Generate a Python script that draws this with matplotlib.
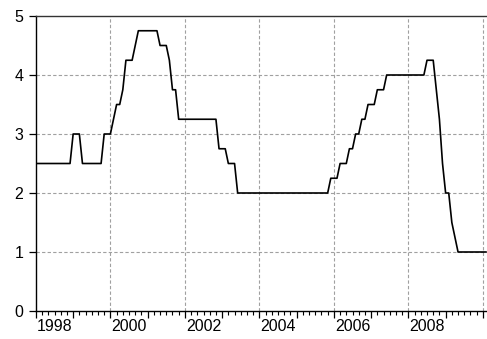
import matplotlib
matplotlib.use("Agg")
import matplotlib.pyplot as plt
import matplotlib.transforms as mtransforms
import numpy as np

# Monthly policy-rate series, January 1998 onward
start_year = 1998
rate_1998 = [2.5, 2.5, 2.5, 2.5, 2.5, 2.5, 2.5, 2.5, 2.5, 2.5, 2.5, 2.5]
rate_1999 = [3.0, 3.0, 3.0, 2.5, 2.5, 2.5, 2.5, 2.5, 2.5, 2.5, 3.0, 3.0]
rate_2000 = [3.0, 3.25, 3.5, 3.5, 3.75, 4.25, 4.25, 4.25, 4.5, 4.75, 4.75, 4.75]
rate_2001 = [4.75, 4.75, 4.75, 4.75, 4.5, 4.5, 4.5, 4.25, 3.75, 3.75, 3.25, 3.25]
rate_2002 = [3.25, 3.25, 3.25, 3.25, 3.25, 3.25, 3.25, 3.25, 3.25, 3.25, 3.25, 2.75]
rate_2003 = [2.75, 2.75, 2.5, 2.5, 2.5, 2.0, 2.0, 2.0, 2.0, 2.0, 2.0, 2.0]
rate_2004 = [2.0, 2.0, 2.0, 2.0, 2.0, 2.0, 2.0, 2.0, 2.0, 2.0, 2.0, 2.0]
rate_2005 = [2.0, 2.0, 2.0, 2.0, 2.0, 2.0, 2.0, 2.0, 2.0, 2.0, 2.0, 2.25]
rate_2006 = [2.25, 2.25, 2.5, 2.5, 2.5, 2.75, 2.75, 3.0, 3.0, 3.25, 3.25, 3.5]
rate_2007 = [3.5, 3.5, 3.75, 3.75, 3.75, 4.0, 4.0, 4.0, 4.0, 4.0, 4.0, 4.0]
rate_2008 = [4.0, 4.0, 4.0, 4.0, 4.0, 4.0, 4.25, 4.25, 4.25, 3.75, 3.25, 2.5]
rate_2009 = [2.0, 2.0, 1.5, 1.25, 1.0, 1.0, 1.0, 1.0, 1.0, 1.0, 1.0, 1.0]
rate_2010 = [1.0, 1.0]

year_labels = ["1998", "2000", "2002", "2004", "2006", "2008"]
y_ticks = [0, 1, 2, 3, 4, 5]

values = (rate_1998 + rate_1999 + rate_2000 + rate_2001 + rate_2002 + rate_2003
          + rate_2004 + rate_2005 + rate_2006 + rate_2007 + rate_2008 + rate_2009
          + rate_2010)
t = start_year + np.arange(len(values)) / 12.0

plt.rcParams['font.family'] = ['Liberation Sans', 'DejaVu Sans']

fig = plt.figure(figsize=(4.87, 3.39), dpi=100)
ax = fig.add_axes([35.9 / 487, 1 - 311 / 339, (486.6 - 35.9) / 487, (311 - 16) / 339])

ax.plot(t, values, color='black', lw=1.2, zorder=3)

ax.set_xlim(1998, 2010.1)
ax.set_ylim(0, 5)

# grid
for x in [2000, 2002, 2004, 2006, 2008, 2010]:
    ax.axvline(x, color='#a0a0a0', lw=0.8, ls=(0, (3, 2)), zorder=1)
for y in [1, 2, 3, 4]:
    ax.axhline(y, color='#a0a0a0', lw=0.8, ls=(0, (3, 2)), zorder=1)

# ticks
ax.set_yticks(y_ticks)
ax.set_yticklabels([str(v) for v in y_ticks], fontsize=11.5)
ax.set_xticks(np.arange(1998, 2011))
ax.set_xticklabels([])
ax.set_xticks(np.arange(1998, 2010.1, 1 / 6.0), minor=True)
ax.tick_params(axis='x', which='major', direction='out', length=5, width=0.9, color='black')
ax.tick_params(axis='x', which='minor', direction='out', length=3, width=0.8, color='black')
ax.tick_params(axis='y', which='major', direction='out', length=5, width=0.9, pad=4, color='black')

trans = mtransforms.blended_transform_factory(ax.transData, ax.transAxes)
for lab in year_labels:
    ax.text(int(lab) + 0.5, -0.028, lab, transform=trans, ha='center', va='top', fontsize=11.5)

for side in ['left', 'bottom', 'top']:
    ax.spines[side].set_color('black')
    ax.spines[side].set_linewidth(1.0)
ax.spines['top'].set_color('#333333')
ax.spines['right'].set_visible(False)

fig.savefig('out.png', dpi=100)
